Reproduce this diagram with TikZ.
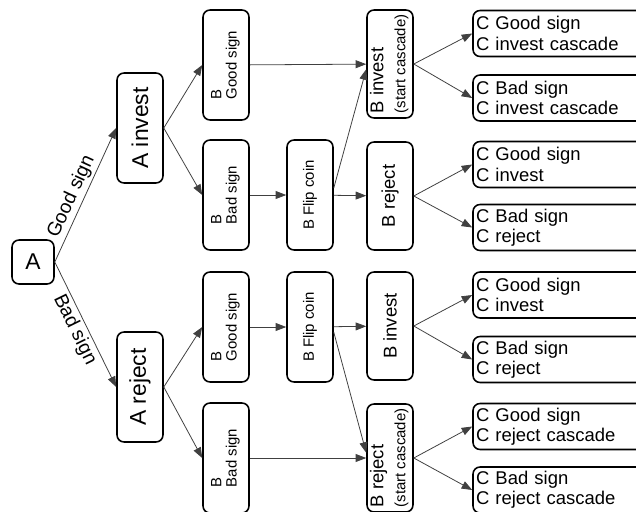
\documentclass[tikz,border=0pt]{standalone}
\usepackage{fontspec}
\setmainfont{Liberation Sans}
\usetikzlibrary{arrows.meta}
% rotated, left aligned text for the tall boxes
\newcommand{\vlabel}[1]{\rotatebox{90}{\begin{tabular}{@{}l@{}}#1\end{tabular}}}

\begin{document}
\begin{tikzpicture}[x=0.02cm,y=-0.02cm,
    box/.style={draw=black,line width=0.9pt,rounded corners=4pt,inner sep=0pt},
    tall/.style={box,minimum width=0.92cm,minimum height=2.2cm},
    big/.style={font=\fontsize{13}{15}\selectfont},
    mid/.style={font=\fontsize{10.5}{12.5}\selectfont},
    small/.style={font=\fontsize{8.5}{8.5}\selectfont},
    cbox/.style={box,minimum height=0.92cm,text width=3.42cm,inner xsep=0.06cm,
        align=left,font=\fontsize{10.5}{11.5}\selectfont},
    lab/.style={font=\fontsize{11}{13}\selectfont,inner sep=1.5pt,color=black},
    arr/.style={-{Triangle[length=6pt,width=4.5pt]},line width=0.45pt,color=black!75}]
    \useasboundingbox (0,0) rectangle (636,511);
    \clip (0,0) rectangle (636,511);

    \node[box,big,minimum width=0.84cm,minimum height=0.88cm] (A) at (33,262) {A};

    \node[tall,big] (Ainv) at (140,128) {\rotatebox{90}{A invest}};
    \node[tall,big] (Arej) at (140,387) {\rotatebox{90}{A reject}};

    \node[tall,small] (Bg1) at (226,65) {\vlabel{B\\Good sign}};
    \node[tall,small] (Bb1) at (226,195) {\vlabel{B\\Bad sign}};
    \node[tall,small] (Bg2) at (226,327) {\vlabel{B\\Good sign}};
    \node[tall,small] (Bb2) at (226,458) {\vlabel{B\\Bad sign}};

    \node[tall,small] (F1) at (310,195) {\rotatebox{90}{B Flip coin}};
    \node[tall,small] (F2) at (310,327) {\rotatebox{90}{B Flip coin}};

    \node[tall,mid,minimum height=2.16cm] (R1) at (390,64) {\vlabel{B invest\\\fontsize{8.5}{9}\selectfont(start cascade)}};
    \node[tall,mid,minimum height=2.16cm] (R2) at (390,196) {\rotatebox{90}{B reject}};
    \node[tall,mid,minimum height=2.16cm] (R3) at (390,326) {\rotatebox{90}{B invest}};
    \node[tall,mid,minimum height=2.16cm] (R4) at (390,458) {\vlabel{B reject\\\fontsize{8.5}{9}\selectfont(start cascade)}};

    \node[cbox] (C1) at (561.5,33.5) {C Good sign\\C invest cascade};
    \node[cbox] (C2) at (561.5,98) {C Bad sign\\C invest cascade};
    \node[cbox] (C3) at (561.5,164.5) {C Good sign\\C invest};
    \node[cbox] (C4) at (561.5,227.5) {C Bad sign\\C reject};
    \node[cbox] (C5) at (561.5,295) {C Good sign\\C invest};
    \node[cbox] (C6) at (561.5,359.5) {C Bad sign\\C reject};
    \node[cbox] (C7) at (561.5,426.5) {C Good sign\\C reject cascade};
    \node[cbox] (C8) at (561.5,490) {C Bad sign\\C reject cascade};

    \path [arr] (A.east) edge node[lab,above,sloped,pos=0.45] {Good sign} (Ainv.west);
    \path [arr] (A.east) edge node[lab,below,sloped] {Bad sign} (Arej.west);
    \path [arr] (Ainv.east) edge (Bg1.west);
    \path [arr] (Ainv.east) edge (Bb1.west);
    \path [arr] (Arej.east) edge (Bg2.west);
    \path [arr] (Arej.east) edge (Bb2.west);
    \path [arr] (Bg1) edge (R1);
    \path [arr] (Bb1) edge (F1);
    \path [arr] (F1) edge (R2);
    \path [arr] ([yshift=4pt]F1.east) edge ([yshift=-3pt]R1.west);
    \path [arr] (Bg2) edge (F2);
    \path [arr] (F2) edge (R3);
    \path [arr] ([yshift=-3pt]F2.east) edge ([yshift=3pt]R4.west);
    \path [arr] (Bb2) edge (R4);
    \path [arr] (R1.east) edge (C1.west);
    \path [arr] (R1.east) edge (C2.west);
    \path [arr] (R2.east) edge (C3.west);
    \path [arr] (R2.east) edge (C4.west);
    \path [arr] (R3.east) edge (C5.west);
    \path [arr] (R3.east) edge (C6.west);
    \path [arr] (R4.east) edge (C7.west);
    \path [arr] (R4.east) edge (C8.west);
\end{tikzpicture}
\end{document}
